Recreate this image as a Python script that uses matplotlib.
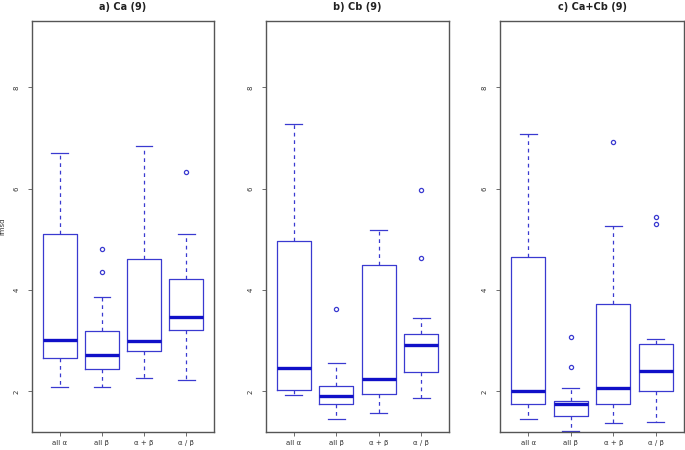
import matplotlib.pyplot as plt

titles = ["a) Ca (9)", "b) Cb (9)", "c) Ca+Cb (9)"]
groups = ["all \u03b1", "all \u03b2", "\u03b1 + \u03b2", "\u03b1 / \u03b2"]

# per panel, per group: lower whisker, Q1, median, Q3, upper whisker, outliers
whislo = [[2.08, 2.08, 2.27, 2.22],
          [1.93, 1.45, 1.57, 1.87],
          [1.46, 1.22, 1.38, 1.40]]
q1 = [[2.66, 2.45, 2.79, 3.21],
      [2.03, 1.76, 1.95, 2.39],
      [1.75, 1.51, 1.76, 2.01]]
med = [[3.02, 2.72, 2.99, 3.46],
       [2.47, 1.91, 2.24, 2.91],
       [2.00, 1.75, 2.07, 2.41]]
q3 = [[5.11, 3.19, 4.62, 4.21],
      [4.97, 2.10, 4.49, 3.14],
      [4.65, 1.82, 3.73, 2.93]]
whishi = [[6.70, 3.86, 6.85, 5.11],
          [7.27, 2.57, 5.18, 3.45],
          [7.08, 2.07, 5.27, 3.04]]
fliers = [[[], [4.81, 4.35], [], [6.33]],
          [[], [3.62], [], [5.98, 4.64]],
          [[], [3.08, 2.49], [6.92], [5.45, 5.30]]]

fig = plt.figure(figsize=(6.85, 4.5), dpi=100)
lefts = [32, 266, 500]
widths = [182, 183, 184]
box_col = "#3a3ad0"
for p in range(3):
    ax = fig.add_axes([lefts[p] / 685, 18 / 450, widths[p] / 685, 411 / 450])
    stats = []
    for g in range(4):
        stats.append(dict(med=med[p][g], q1=q1[p][g], q3=q3[p][g],
                          whislo=whislo[p][g], whishi=whishi[p][g],
                          fliers=fliers[p][g]))
    ax.bxp(stats, positions=[1, 2, 3, 4], widths=0.8, capwidths=0.4,
           boxprops=dict(color=box_col, lw=0.9),
           medianprops=dict(color="#1010c8", lw=2.4, solid_capstyle="butt"),
           whiskerprops=dict(color=box_col, lw=0.9, ls=(0, (3, 3))),
           capprops=dict(color=box_col, lw=0.9),
           flierprops=dict(marker="o", markersize=3, markerfacecolor="none",
                           markeredgecolor=box_col, markeredgewidth=0.9))
    ax.set_xlim(0.34, 4.66)
    ax.set_ylim(1.2, 9.31)
    ax.set_yticks([2, 4, 6, 8])
    ax.set_yticklabels(["2", "4", "6", "8"], rotation=90, va="center", fontsize=5, color="#333333")
    ax.set_xticks([1, 2, 3, 4])
    ax.set_xticklabels(groups, fontsize=5, color="#333333")
    ax.tick_params(axis="y", length=3, width=0.6, color="#555555", pad=6)
    ax.tick_params(axis="x", length=3, width=0.6, color="#555555", pad=2.5)
    for s in ax.spines.values():
        s.set_color("#555555")
        s.set_linewidth(1.0)
    ax.set_title(titles[p], fontsize=7, fontweight="bold", pad=8, color="#222222")
    if p == 0:
        ax.set_ylabel("rmsd", fontsize=5, color="#333333", labelpad=6)

fig.savefig("out.png", dpi=100)
